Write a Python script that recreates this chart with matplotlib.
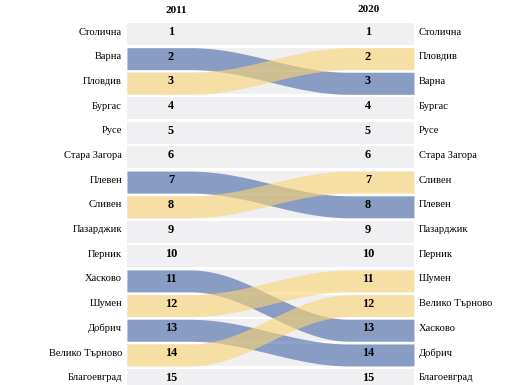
import numpy as np
import matplotlib.pyplot as plt

names_2011 = ["Столична", "Варна", "Пловдив", "Бургас", "Русе", "Стара Загора",
              "Плевен", "Сливен", "Пазарджик", "Перник", "Хасково", "Шумен",
              "Добрич", "Велико Търново", "Благоевград"]
names_2020 = ["Столична", "Пловдив", "Варна", "Бургас", "Русе", "Стара Загора",
              "Сливен", "Плевен", "Пазарджик", "Перник", "Шумен", "Велико Търново",
              "Хасково", "Добрич", "Благоевград"]
years = ["2011", "2020"]

blue = (0.29, 0.41, 0.66)
yellow = (0.98, 0.84, 0.46)
gray = "#f0eff1"
alpha = 0.62

plt.rcParams['font.family'] = ['Liberation Serif', 'DejaVu Serif']

fig = plt.figure(figsize=(5.26, 3.85), dpi=100)
ax = fig.add_axes([0, 0, 1, 1])
ax.set_xlim(0, 526)
ax.set_ylim(15.215, -0.3765)
ax.axis('off')

x0, x1 = 127, 414
xl_num, xr_num = 171, 368
h = 0.89

ranks = np.arange(1, len(names_2011) + 1)
ax.barh(ranks, x1 - x0, left=x0, height=h, color=gray, zorder=1)

xs = np.linspace(x0, x1, 300)
a, b = 190, 350
t = np.clip((xs - a) / (b - a), 0, 1)
ease = 0.5 - 0.5 * np.cos(np.pi * t)

moves = []
for i, name in enumerate(names_2011):
    r0 = i + 1
    r1 = names_2020.index(name) + 1
    if r0 != r1:
        moves.append((r0, r1))

# blue (falling) first, yellow (rising) on top
for r0, r1 in sorted(moves, key=lambda m: m[1] < m[0]):
    c = blue if r1 > r0 else yellow
    yc = r0 + (r1 - r0) * ease
    ax.fill_between(xs, yc - h / 2, yc + h / 2, color=c, alpha=alpha,
                    linewidth=0, zorder=2)

dy = -0.08
fs = 7.6
for i in range(len(names_2011)):
    r = i + 1
    ax.text(122, r + dy, names_2011[i], ha='right', va='center', fontsize=fs, zorder=3)
    ax.text(419, r + dy, names_2020[i], ha='left', va='center', fontsize=fs, zorder=3)
    ax.text(xl_num, r + dy, str(r), ha='center', va='center', fontsize=8.8,
            fontweight='bold', zorder=3)
    ax.text(xr_num, r + dy, str(r), ha='center', va='center', fontsize=8.8,
            fontweight='bold', zorder=3)

ax.text(176, 0.05, years[0], ha='center', va='center', fontsize=8, fontweight='bold')
ax.text(369, 0.02, years[1], ha='center', va='center', fontsize=8, fontweight='bold')

fig.savefig("out.png", dpi=100)
